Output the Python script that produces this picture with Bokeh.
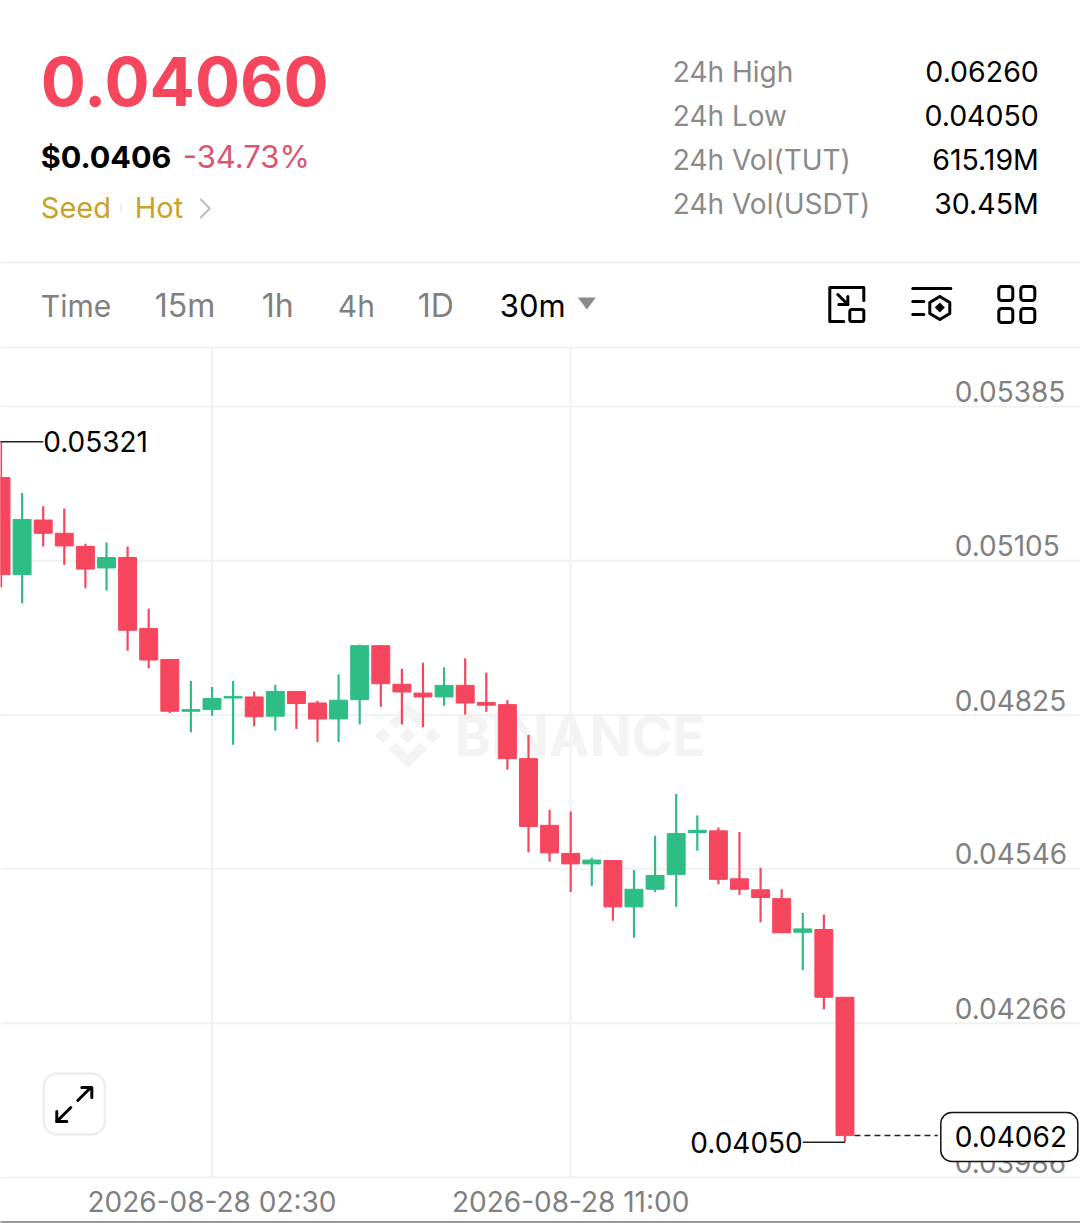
from bokeh.plotting import figure
from bokeh.embed import file_html
from bokeh.resources import INLINE
from bokeh.core.properties import value
from bokeh.models import Range1d, LinearAxis, FixedTicker, Span

# ---- data ----
opens  = [0.05256,0.05080,0.05179,0.05155,0.05131,0.05092,0.05111,0.04982,0.04926,0.04832,0.04835,0.04856,0.04858,0.04823,0.04868,0.04847,0.04818,0.04853,0.04951,0.04881,0.04865,0.04858,0.04879,0.04848,0.04844,0.04746,0.04625,0.04574,0.04555,0.04561,0.04477,0.04509,0.04536,0.04612,0.04615,0.04528,0.04508,0.04492,0.04431,0.04436,0.04313]
closes = [0.05080,0.05180,0.05155,0.05132,0.05090,0.05111,0.04979,0.04925,0.04832,0.04835,0.04855,0.04859,0.04822,0.04868,0.04846,0.04818,0.04852,0.04951,0.04882,0.04867,0.04858,0.04879,0.04847,0.04843,0.04746,0.04623,0.04575,0.04555,0.04562,0.04477,0.04509,0.04534,0.04610,0.04616,0.04527,0.04509,0.04494,0.04430,0.04437,0.04313,0.04062]
highs  = [0.05321,0.05228,0.05204,0.05200,0.05136,0.05138,0.05131,0.05018,0.04927,0.04887,0.04876,0.04887,0.04868,0.04880,0.04868,0.04851,0.04899,0.04953,0.04951,0.04909,0.04920,0.04912,0.04928,0.04902,0.04852,0.04789,0.04653,0.04650,0.04566,0.04561,0.04544,0.04606,0.04682,0.04643,0.04621,0.04613,0.04548,0.04509,0.04466,0.04463,0.04313]
lows   = [0.05057,0.05028,0.05131,0.05098,0.05055,0.05051,0.04942,0.04910,0.04829,0.04794,0.04824,0.04771,0.04805,0.04797,0.04800,0.04776,0.04776,0.04808,0.04840,0.04808,0.04803,0.04842,0.04826,0.04831,0.04726,0.04576,0.04559,0.04504,0.04515,0.04452,0.04421,0.04504,0.04477,0.04579,0.04518,0.04499,0.04449,0.04430,0.04362,0.04291,0.04050]
candle_index = list(range(len(opens)))

y_ticks = [0.05385,0.05105,0.04825,0.04546,0.04266,0.03986]
y_labels = ["0.05385","0.05105","0.04825","0.04546","0.04266","0.03986"]
x_ticks = [10,27]
x_labels = ["2026-08-28 02:30","2026-08-28 11:00"]
last_price = 0.04062
max_price = 0.05321
min_price = 0.04050

tabs = ["Time","15m","1h","4h","1D","30m"]
stat_names = ["24h High","24h Low","24h Vol(TUT)","24h Vol(USDT)"]
stat_values = ["0.06260","0.04050","615.19M","30.45M"]

RED="#F6465D"; GREEN="#2EBD85"; GRID="#F1F1F1"; GREY="#808080"; FONT="Inter"

p = figure(width=1080, height=1223, output_backend="svg", toolbar_location=None,
           x_axis_type=None, y_axis_type=None, min_border=0, outline_line_color=None,
           x_range=Range1d(-0.024,51.163), y_range=Range1d(0.039025,0.061217))
p.grid.visible=False
p.extra_x_ranges["px"]=Range1d(0.7,1080.7)
p.extra_y_ranges["px"]=Range1d(1223,0)
PX=dict(x_range_name="px",y_range_name="px")

def text(x,y,t,size,color="#000000",align="left",style="normal",level="glyph"):
    p.text(x=[x],y=[y],text=[t],text_font=value(FONT),text_font_size=f"{size}px",text_color=color,
           text_align=align,text_baseline="middle",text_font_style=style,level=level,**PX)
def lines(xs,ys,color="#000000",w=3):
    p.line(xs,ys,line_color=color,line_width=w,line_cap="round",line_join="round",**PX)

# chrome
p.segment([0],[262],[1081],[262],line_color="#EEEEEE",line_width=1.5,**PX)
p.segment([0],[347],[1081],[347],line_color="#F3F3F3",line_width=2.5,**PX)
p.segment([0],[1221.5],[1081],[1221.5],line_color="#999999",line_width=2,**PX)

# grid
for v in y_ticks:
    p.add_layout(Span(location=v,dimension="width",line_color=GRID,line_width=2,level="underlay"))
p.segment(x0=x_ticks,y0=[347,347],x1=x_ticks,y1=[1177,1177],line_color=GRID,line_width=2,
          y_range_name="px",level="underlay")

# watermark
cx,cy=408,735
mark=[[(0,-33),(19,-14),(12,-7),(0,-19),(-12,-7),(-19,-14)],
      [(0,33),(19,14),(12,7),(0,19),(-12,7),(-19,14)],
      [(0,-8),(8,0),(0,8),(-8,0)],
      [(-25,-8),(-17,0),(-25,8),(-33,0)],
      [(25,-8),(33,0),(25,8),(17,0)]]
p.patches([[cx+a for a,b in m] for m in mark],[[cy+b for a,b in m] for m in mark],
          fill_color="#F3F3F3",line_color=None,**PX)
text(455,735,"BINANCE",55,"#F3F3F3",style="bold")

# candles
colors=[GREEN if c>=o else RED for o,c in zip(opens,closes)]
p.segment(x0=candle_index,y0=lows,x1=candle_index,y1=highs,line_color=colors,line_width=2.2)
p.vbar(x=candle_index,bottom=[min(o,c) for o,c in zip(opens,closes)],
       top=[max(o,c) for o,c in zip(opens,closes)],width=0.85,fill_color=colors,line_color=colors,line_width=1)

# price labels sit above their grid lines
p.text(x=[45.2]*len(y_ticks),y=y_ticks,text=y_labels,y_offset=-15,text_font=value(FONT),text_font_size="28px",
       text_color=GREY,text_baseline="middle",text_align="left")
ax=LinearAxis(fixed_location=y_ticks[-1],ticker=FixedTicker(ticks=x_ticks),
              major_label_overrides=dict(zip(x_ticks,x_labels)),
              axis_line_color=None,major_tick_line_color=None,minor_tick_line_color=None,
              major_label_text_color=GREY,major_label_text_font=FONT,major_label_text_font_size="28px",
              major_label_text_align="center",major_label_standoff=2)
p.add_layout(ax,"below")

# high / low markers
p.segment(x0=[-0.057],y0=[max_price],x1=[2.0],y1=[max_price],line_color="#222222",line_width=1.5)
p.text(x=[2.0],y=[max_price],text=["0.05321"],text_font=value(FONT),text_font_size="28px",text_color="#000000",
       text_baseline="middle",text_align="left")
p.segment(x0=[38.0],y0=[min_price],x1=[40],y1=[min_price],line_color="#222222",line_width=1.5)
p.text(x=[38.0],y=[min_price],text=["0.04050"],text_font=value(FONT),text_font_size="28px",text_color="#000000",
       text_baseline="middle",text_align="right")
# last price
p.segment(x0=[40.45],y0=[last_price],x1=[44.4],y1=[last_price],line_color="#222222",line_width=1.5,line_dash="6 4")
p.quad(left=[941],right=[1078],top=[1112],bottom=[1161],fill_color="#FFFFFF",line_color="#111111",line_width=1.5,
       border_radius=11,level="overlay",**PX)
text(955,1136,"0.04062",28,"#000000",level="overlay")

# header
text(41,81,"0.04060",67,RED,style="bold")
text(41,156,"$0.0406",30.5,"#000000",style="bold")
text(183,156,"-34.73%",31,"#D9566E")
text(41,207,"Seed",29,"#C9A22A")
text(135,207,"Hot",29,"#C9A22A")
p.segment([121],[203],[121],[211],line_color="#EEEEEE",line_width=2,**PX)
lines([201,210,201],[199,208,217],"#BDBDBD",2)
for i,(n,v) in enumerate(zip(stat_names,stat_values)):
    y=71+44*i
    text(673,y,n,28,"#8A8A8A")
    text(1039,y,v,28.5,"#000000",align="right")

# tabs
for t,x,s in zip(tabs,[41,155,262,338,418,500],[30,32,32,30,32,31]):
    text(x,305,t,s,"#000000" if t=="30m" else GREY)
p.patch([578,596,587],[297,297,309],fill_color="#8A8A8A",line_color=None,**PX)

# icons
lines([864,864,830,830,844],[300,287,287,321,321])
p.quad(left=[850],right=[864],top=[309],bottom=[321],fill_color=None,line_color="#000000",line_width=3,border_radius=2,**PX)
lines([838,848],[294,304]); lines([839,848,848],[304,304,296])
lines([913,951],[288,288]); lines([913,924],[301,301]); lines([913,924],[314,314])
lines([940,950,950,940,930,930,940],[296,302,313,319,313,302,296])
p.patch([940,945,940,935],[302,307,312,307],fill_color="#000000",line_color=None,**PX)
for l,r,t_,b in [(999,1013,286,300),(1021,1035,286,300),(999,1013,308,322),(1021,1035,308,322)]:
    p.quad(left=[l],right=[r],top=[t_],bottom=[b],fill_color=None,line_color="#000000",line_width=3,border_radius=3,**PX)

# expand button
p.quad(left=[44],right=[105],top=[1073],bottom=[1134],fill_color="#FFFFFF",line_color="#EEEEEE",line_width=2.5,border_radius=13,**PX)
lines([78,91],[1100,1087]); lines([82,92,92],[1087,1087,1097])
lines([71,57],[1107,1121]); lines([57,57,67],[1111,1121,1121])

open("out.html","w").write(file_html(p,INLINE))
